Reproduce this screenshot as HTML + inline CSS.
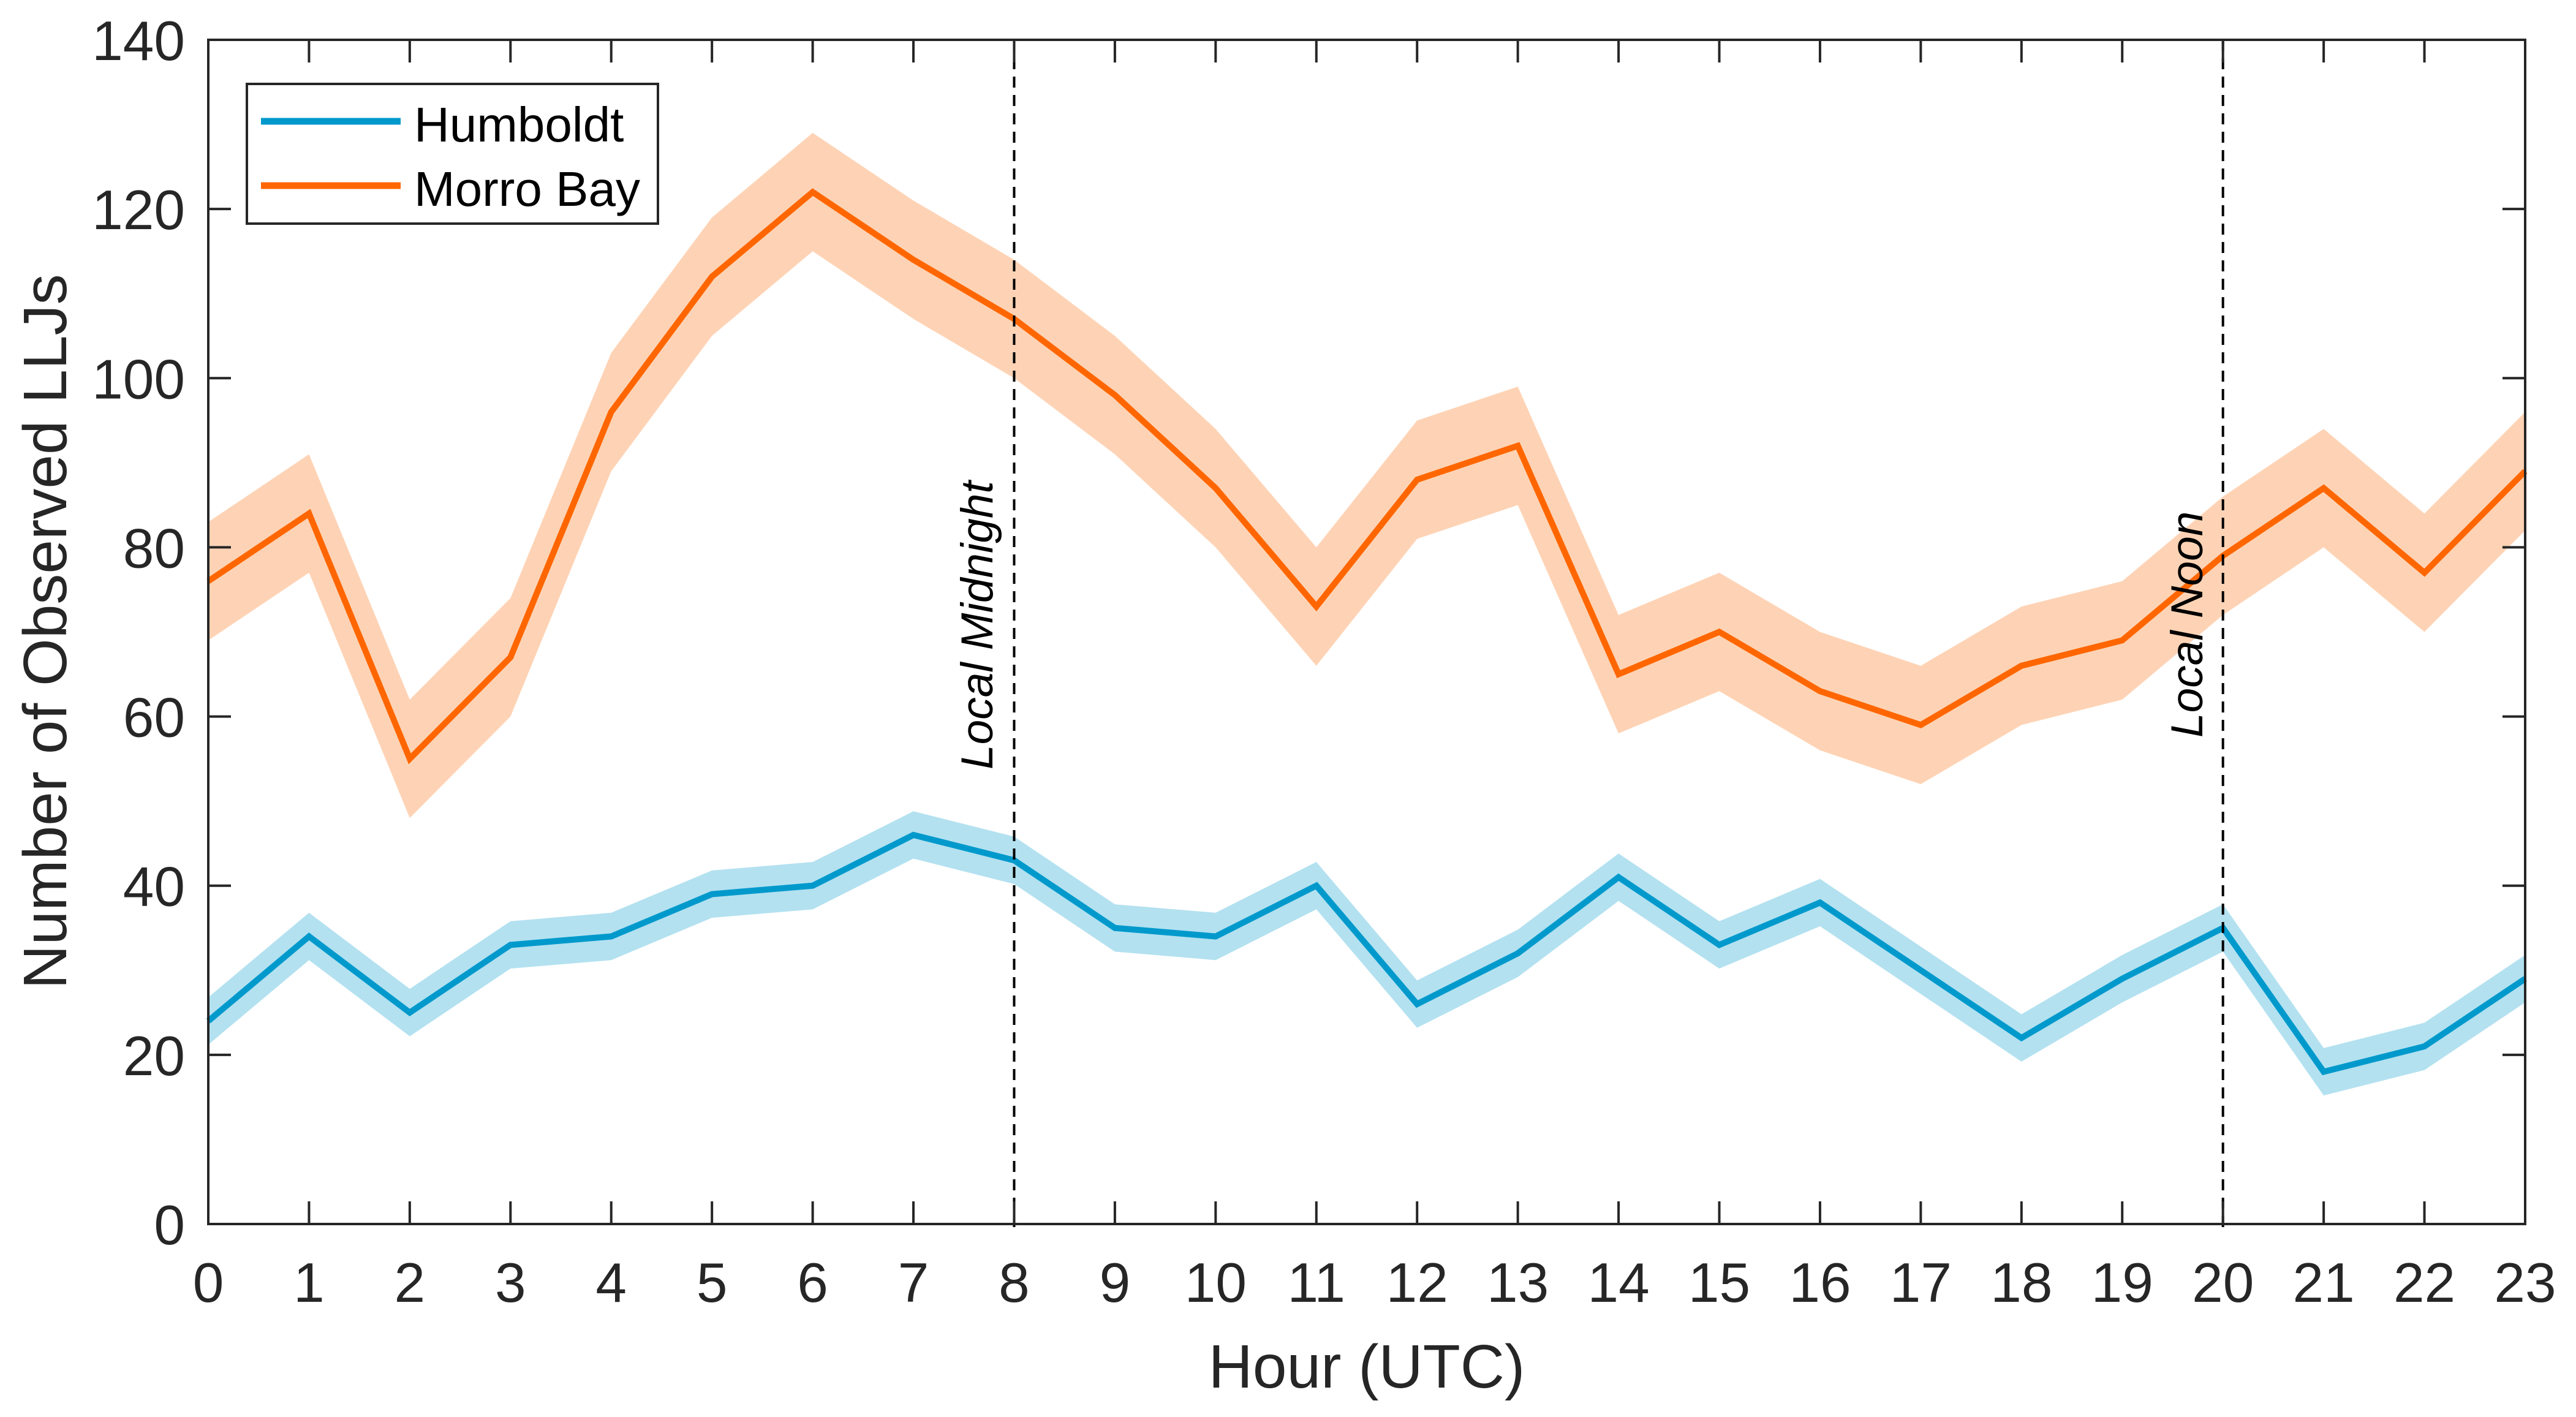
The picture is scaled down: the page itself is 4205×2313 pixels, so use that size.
<!DOCTYPE html>
<html><head><meta charset="utf-8"><style>
html,body{margin:0;padding:0;background:#fff;}
svg{display:block;font-family:"Liberation Sans",Arial,sans-serif;}
</style></head><body>
<svg id="chart" width="4205" height="2313" viewBox="0 0 4205 2313" xmlns="http://www.w3.org/2000/svg">
<rect width="4205" height="2313" fill="#fff"/>
<g id="bands"></g>
<g id="lines"></g>
<g id="axes"></g>
</svg>
<script>
const hours = [0,1,2,3,4,5,6,7,8,9,10,11,12,13,14,15,16,17,18,19,20,21,22,23];
const humboldt = [24,34,25,33,34,39,40,46,43,35,34,40,26,32,41,33,38,30,22,29,35,18,21,29];
const humboldtErr = [2.8,2.8,2.8,2.8,2.8,2.8,2.8,2.8,2.8,2.8,2.8,2.8,2.8,2.8,2.8,2.8,2.8,2.8,2.8,2.8,2.8,2.8,2.8,2.8];
const morroBay = [76,84,55,67,96,112,122,114,107,98,87,73,88,92,65,70,63,59,66,69,79,87,77,89];
const morroErr = [7,7,7,7,7,7,7,7,7,7,7,7,7,7,7,7,7,7,7,7,7,7,7,7];
const yTicks = [0,20,40,60,80,100,120,140];
const xTicks = [0,1,2,3,4,5,6,7,8,9,10,11,12,13,14,15,16,17,18,19,20,21,22,23];
const markers = [8,20];
const markerLabels = ["Local Midnight","Local Noon"];

const L=340,R=4122,T=65,B=1998;
const X=v=>L+(v-0)/(23-0)*(R-L);
const Y=v=>B-(v-0)/(140-0)*(B-T);
const NS="http://www.w3.org/2000/svg";
function mk(tag,attrs,parent){const e=document.createElementNS(NS,tag);for(const k in attrs)e.setAttribute(k,attrs[k]);parent.appendChild(e);return e;}
const bands=document.getElementById('bands'),lines=document.getElementById('lines'),axes=document.getElementById('axes');

function band(vals,err,fill,name){
  const up=hours.map((h,i)=>X(h)+','+Y(vals[i]+err[i]));
  const dn=hours.map((h,i)=>X(h)+','+Y(vals[i]-err[i])).reverse();
  const p=mk('polygon',{points:up.concat(dn).join(' '),fill:fill},bands);
  
  
}
function line(vals,stroke,name){
  const p=mk('polyline',{points:hours.map((h,i)=>X(h)+','+Y(vals[i])).join(' '),fill:'none',stroke:stroke,'stroke-width':10,'stroke-linejoin':'miter'},lines);
  
  
}
band(morroBay,morroErr,'#fed3b5','morro-bay-band');
band(humboldt,humboldtErr,'#b3e1f0','humboldt-band');
line(morroBay,'#ff6600','morro-bay-line');
line(humboldt,'#0099cc','humboldt-line');

// markers
markers.forEach((m,i)=>{
  const l=mk('line',{x1:X(m),x2:X(m),y1:T,y2:B+10,stroke:'#000','stroke-width':4,'stroke-dasharray':'18 12'},lines);
  
  
});
const ml1=mk('text',{x:1620,y:1256,transform:'rotate(-90 1620 1256)','font-size':73,'font-style':'italic',fill:'#000'},lines);
ml1.textContent=markerLabels[0];


const ml2=mk('text',{x:3595,y:1204,transform:'rotate(-90 3595 1204)','font-size':73,'font-style':'italic',fill:'#000'},lines);
ml2.textContent=markerLabels[1];



// axes frame
const fr=mk('rect',{x:L,y:T,width:R-L,height:B-T,fill:'none',stroke:'#262626','stroke-width':4},axes);


xTicks.forEach(t=>{
  const x=X(t);
  mk('line',{x1:x,x2:x,y1:B,y2:B-37,stroke:'#262626','stroke-width':4},axes);
  mk('line',{x1:x,x2:x,y1:T,y2:T+37,stroke:'#262626','stroke-width':4},axes);
  const tx=mk('text',{x:x,y:2125,'text-anchor':'middle','font-size':91,fill:'#262626'},axes);
  tx.textContent=t;
  
  
});
yTicks.forEach(t=>{
  const y=Y(t);
  mk('line',{x1:L,x2:L+37,y1:y,y2:y,stroke:'#262626','stroke-width':4},axes);
  mk('line',{x1:R,x2:R-37,y1:y,y2:y,stroke:'#262626','stroke-width':4},axes);
  const ty=mk('text',{x:302,y:y+33,'text-anchor':'end','font-size':91,fill:'#262626'},axes);
  ty.textContent=t;
  
  
});
const xt=mk('text',{x:(L+R)/2,y:2265,'text-anchor':'middle','font-size':100,fill:'#262626'},axes);
xt.textContent='Hour (UTC)';


const yt=mk('text',{x:108,y:1031,transform:'rotate(-90 108 1031)','text-anchor':'middle','font-size':100,fill:'#262626'},axes);
yt.textContent='Number of Observed LLJs';



// legend
const lg=mk('g',{},axes);


mk('rect',{x:403,y:137,width:671,height:228,fill:'#fff',stroke:'#262626','stroke-width':4},lg);
const e1=mk('line',{x1:426,x2:654,y1:198,y2:198,stroke:'#0099cc','stroke-width':11},lg);


const t1=mk('text',{x:676,y:231,'font-size':80,fill:'#000'},lg);
t1.textContent='Humboldt';


const e2=mk('line',{x1:426,x2:654,y1:303,y2:303,stroke:'#ff6600','stroke-width':11},lg);


const t2=mk('text',{x:676,y:336,'font-size':80,fill:'#000'},lg);
t2.textContent='Morro Bay';


</script>
</body></html>
